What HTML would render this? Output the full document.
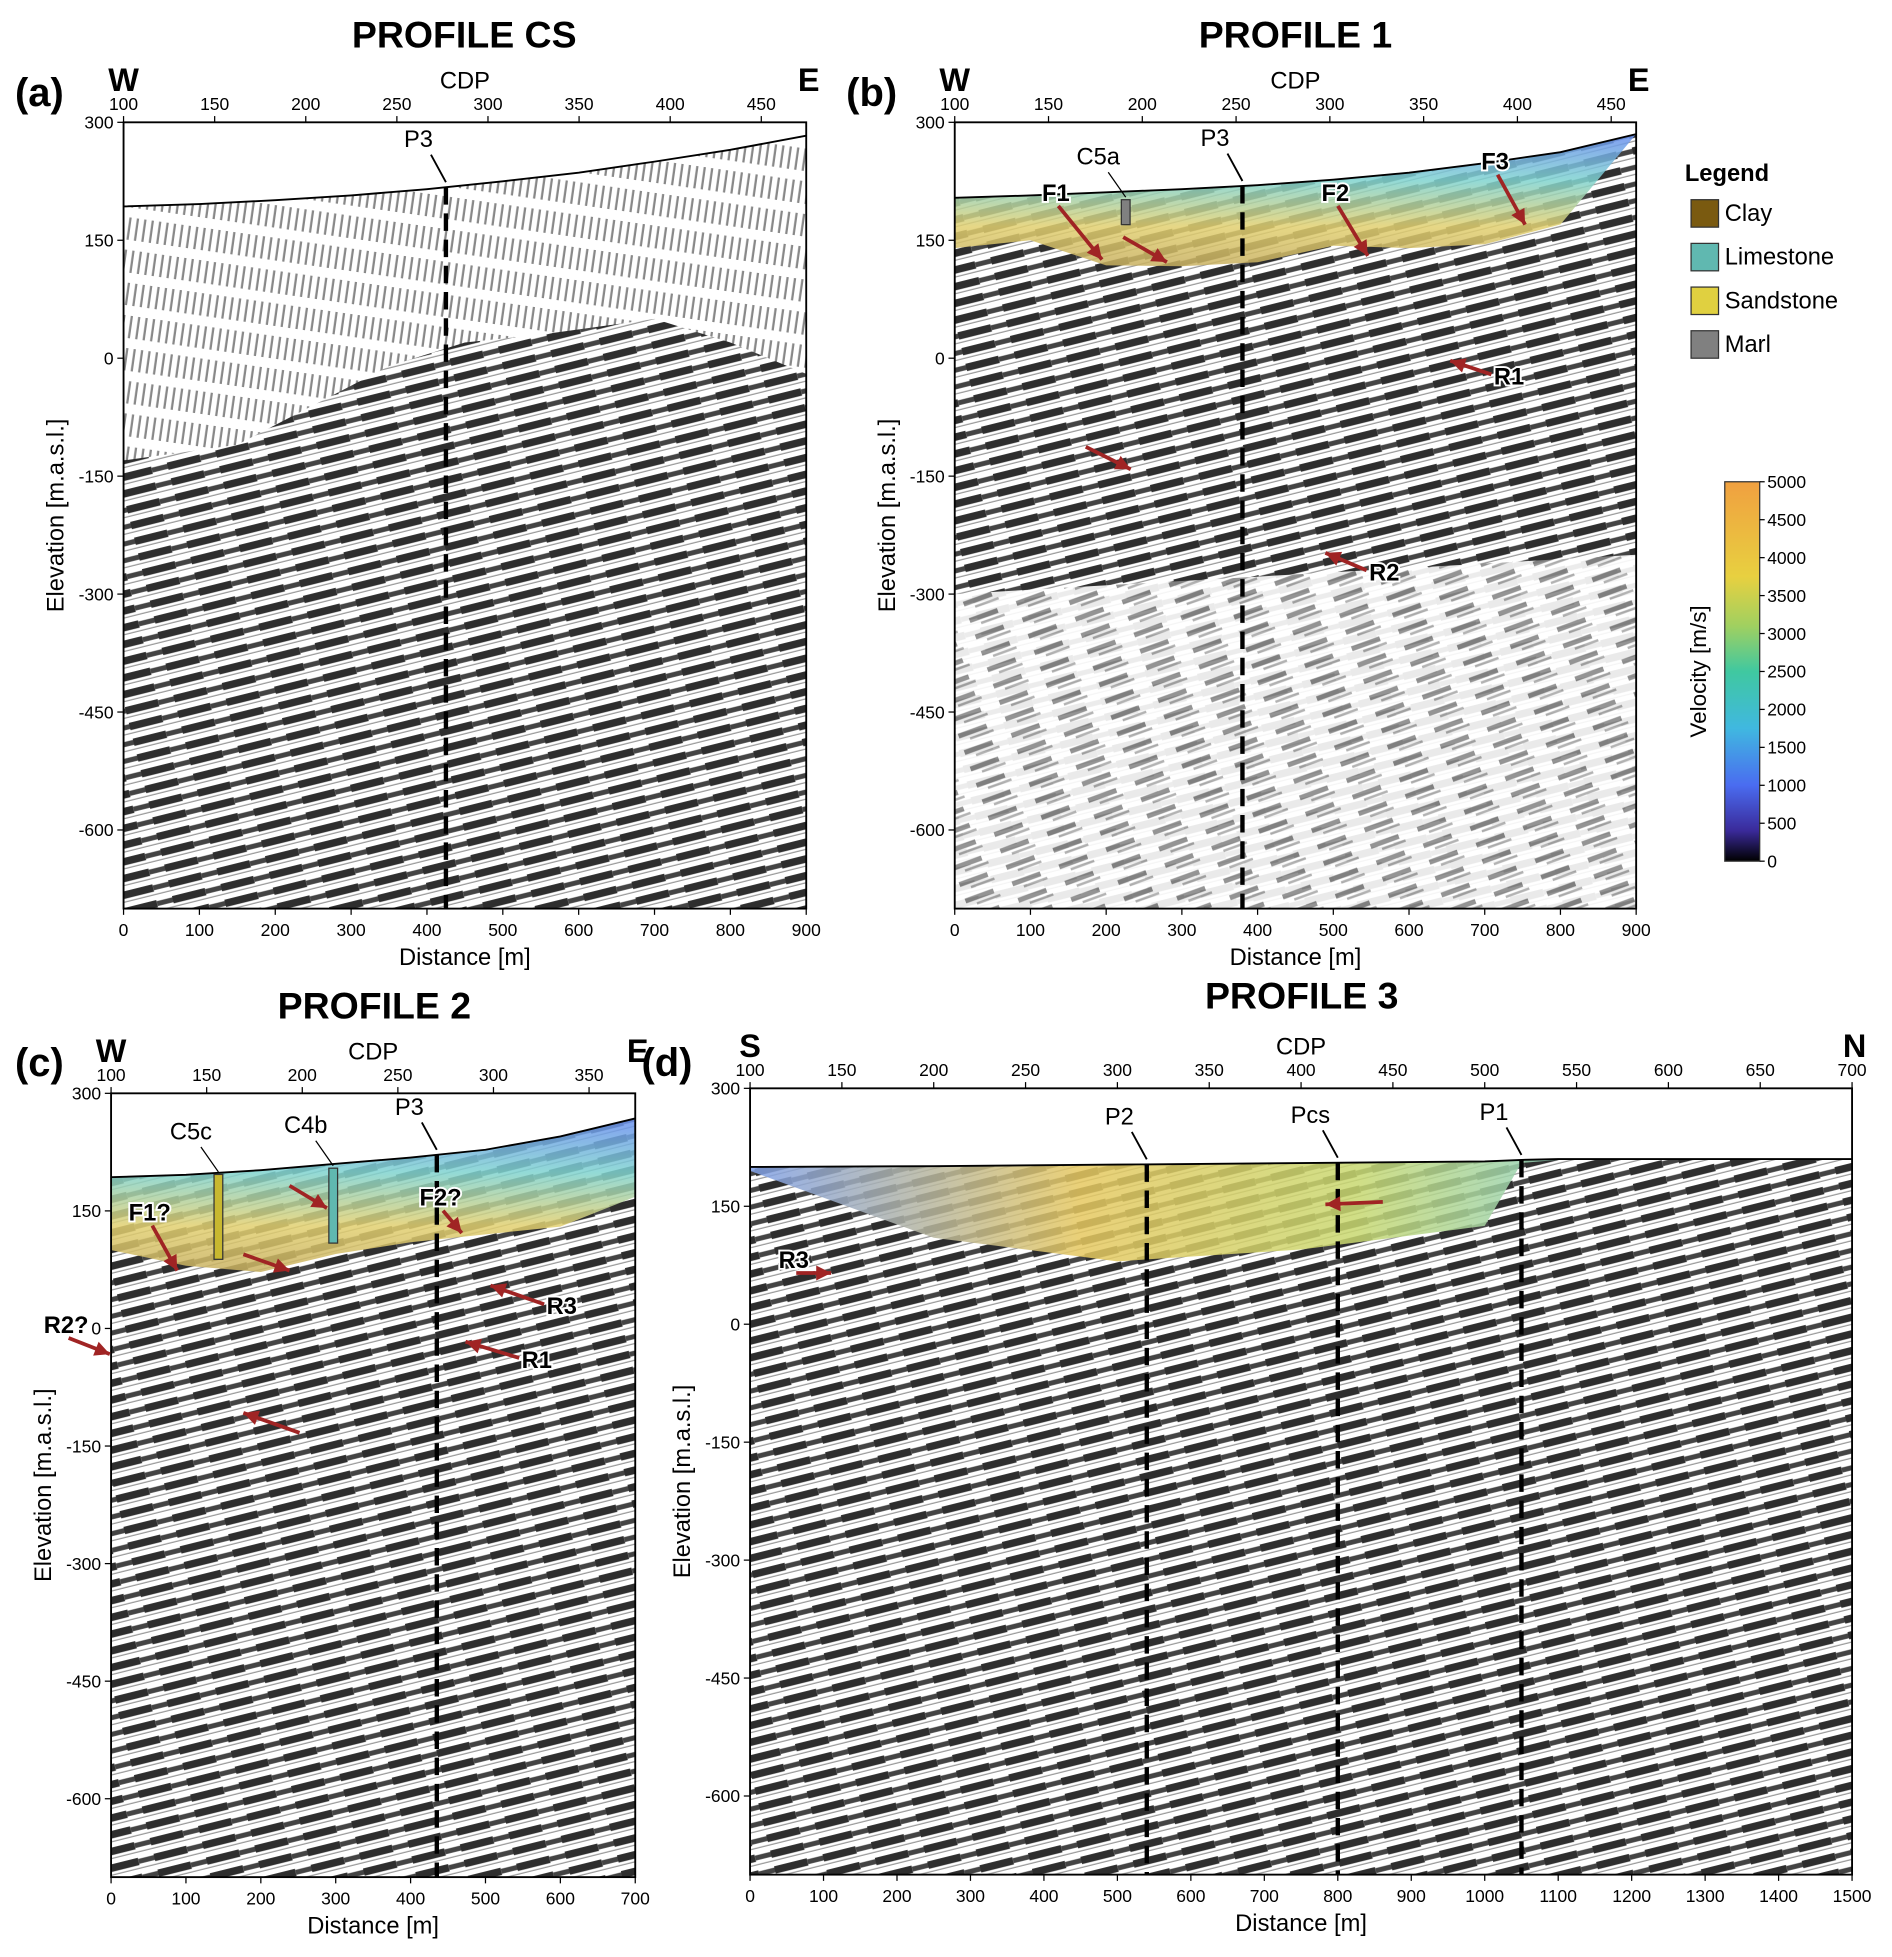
<!DOCTYPE html>
<html><head><meta charset="utf-8"><style>
html,body{margin:0;padding:0;background:#fff}
svg{display:block}
text{font-family:"Liberation Sans",sans-serif}
</style></head><body>
<svg id="fig" width="1892" height="1957" viewBox="0 0 1516 1568" preserveAspectRatio="none" xmlns="http://www.w3.org/2000/svg">
<defs>
<pattern id="seis" width="40" height="13" patternUnits="userSpaceOnUse" patternTransform="rotate(-14)">
<rect width="40" height="13" fill="#fff"/>
<rect y="2" width="27" height="6" fill="#2e2e2e"/>
<rect x="27" y="3" width="13" height="4" fill="#444"/>
<line x1="0" y1="10.5" x2="40" y2="10.5" stroke="#999" stroke-width="1"/>
</pattern>
<pattern id="seisLight" width="40" height="14" patternUnits="userSpaceOnUse" patternTransform="rotate(-20)">
<rect width="40" height="14" fill="#fff"/>
<rect y="3" width="24" height="4" fill="#888"/>
<rect x="8" y="9" width="20" height="2" fill="#aaa"/>
</pattern>
<pattern id="vert" width="6" height="26" patternUnits="userSpaceOnUse" patternTransform="rotate(8)">
<rect width="6" height="26" fill="#fff"/>
<rect x="1" y="2" width="1.8" height="18" fill="#888"/>
</pattern>
<linearGradient id="velH" x1="0" x2="1" y1="0" y2="0">
<stop offset="0" stop-color="#7fa0e8"/><stop offset="0.3" stop-color="#e6c860"/><stop offset="0.55" stop-color="#c8d870"/><stop offset="0.8" stop-color="#7fd0d8"/><stop offset="1" stop-color="#6e9ee8"/>
</linearGradient>
<linearGradient id="velV" x1="0" x2="0" y1="0" y2="1">
<stop offset="0" stop-color="#6a8ef0"/><stop offset="0.35" stop-color="#7fd3d0"/><stop offset="0.7" stop-color="#e2d070"/><stop offset="1" stop-color="#c8b060"/>
</linearGradient>
<linearGradient id="cbar" x1="0" x2="0" y1="1" y2="0">
<stop offset="0" stop-color="#000"/><stop offset="0.08" stop-color="#3a2a9a"/><stop offset="0.2" stop-color="#4a6cf0"/><stop offset="0.35" stop-color="#40b8e0"/><stop offset="0.5" stop-color="#40c8a0"/><stop offset="0.62" stop-color="#a0d060"/><stop offset="0.75" stop-color="#e8d040"/><stop offset="1" stop-color="#f0a040"/>
</linearGradient>
</defs>
<g id="root"></g>
</svg>
<script>
// ---- data ----
const elevTicks = [300,150,0,-150,-300,-450,-600];
const distTicksShort = [0,100,200,300,400,500,600,700,800,900];
const distTicksC = [0,100,200,300,400,500,600,700];
const distTicksD = [0,100,200,300,400,500,600,700,800,900,1000,1100,1200,1300,1400,1500];
const cdpTicksAB = [100,150,200,250,300,350,400,450];
const cdpTicksC = [100,150,200,250,300,350];
const cdpTicksD = [100,150,200,250,300,350,400,450,500,550,600,650,700];
// surfaces (distance m, elevation m)
const surfA_x = [0,100,200,300,400,500,600,700,800,900];
const surfA_y = [193,196,201,207,215,225,236,250,265,283];
const noiseA_x = [0,150,250,350,450,550,700,800,900];
const noiseA_y = [-130,-110,-60,-10,20,30,50,20,-20];
const surfB_x = [0,100,200,300,400,500,600,700,800,900];
const surfB_y = [204,207,211,215,220,227,236,248,262,285];
const baseB_y = [140,150,118,117,122,143,140,145,170,285];
const surfC_x = [0,100,200,300,400,500,600,700];
const surfC_y = [193,196,202,210,218,228,245,268];
const baseC_y = [100,80,72,95,110,120,130,168];
const surfD_x = [0,250,500,750,1000,1050,1100,1250,1500];
const surfD_y = [200,201,203,205,207,209,210,210,210];
const baseD_y = [195,110,80,95,125,205,209,209,209];
const velTicks = [0,500,1000,1500,2000,2500,3000,3500,4000,4500,5000];
const legendItems = ["Clay","Limestone","Sandstone","Marl"];
const legendColors = ["#7a5a10","#60b8b0","#e0d040","#808080"];

const NS="http://www.w3.org/2000/svg";
const root=document.getElementById('root');
function el(tag,attrs,parent,txt){const e=document.createElementNS(NS,tag);for(const k in attrs)e.setAttribute(k,attrs[k]);if(txt!==undefined)e.textContent=txt;(parent||root).appendChild(e);return e;}

const panels=[
 {id:'a',x0:99,x1:646,y0:98,y1:728,dmax:900,cdp0:100,cdp1:450,cdpx1:610,dt:distTicksShort,ct:cdpTicksAB,sx:surfA_x,sy:surfA_y,title:'PROFILE CS',tx:372,ty:38,lab:'(a)',lx:12,ly:85,L:'W',R:'E',lines:[[425,'P3']]},
 {id:'b',x0:765,x1:1311,y0:98,y1:728,dmax:900,cdp0:100,cdp1:450,cdpx1:1291,dt:distTicksShort,ct:cdpTicksAB,sx:surfB_x,sy:surfB_y,by:baseB_y,title:'PROFILE 1',tx:1038,ty:38,lab:'(b)',lx:678,ly:85,L:'W',R:'E',lines:[[380,'P3']]},
 {id:'c',x0:89,x1:509,y0:876,y1:1504,dmax:700,cdp0:100,cdp1:350,cdpx1:472,dt:distTicksC,ct:cdpTicksC,sx:surfC_x,sy:surfC_y,by:baseC_y,title:'PROFILE 2',tx:300,ty:816,lab:'(c)',lx:12,ly:862,L:'W',R:'E',lines:[[435,'P3']]},
 {id:'d',x0:601,x1:1484,y0:872,y1:1502,dmax:1500,cdp0:100,cdp1:700,cdpx1:1484,dt:distTicksD,ct:cdpTicksD,sx:surfD_x,sy:surfD_y,by:baseD_y,title:'PROFILE 3',tx:1043,ty:808,lab:'(d)',lx:514,ly:862,L:'S',R:'N',lines:[[540,'P2'],[800,'Pcs'],[1050,'P1']]}
];

panels.forEach(p=>{
 const g=el('g',{});
 
 
 const X=d=>p.x0+(p.x1-p.x0)*d/p.dmax;
 const ypx=(p.y1-p.y0)/1000;
 const Y=e=>p.y0+(300-e)*ypx;
 const C=c=>p.x0+(p.cdpx1-p.x0)*(c-p.cdp0)/(p.cdp1-p.cdp0);
 let pts=p.sx.map((d,i)=>X(d)+','+Y(p.sy[i])).join(' ');
 const poly=pts+' '+p.x1+','+p.y1+' '+p.x0+','+p.y1;
 const s=el('polygon',{points:poly,fill:'url(#seis)'},g);
 
 
 if(p.id==='a'){
  const npts=noiseA_x.map((d,i)=>X(d)+','+Y(noiseA_y[i])).reverse().join(' ');
  const vp=el('polygon',{points:pts+' '+npts,fill:'url(#vert)'},g);
  
  
 }
 if(p.id==='b'){
  const lp=el('polygon',{points:X(0)+','+Y(-300)+' '+X(900)+','+Y(-250)+' '+X(900)+','+Y(-700)+' '+X(0)+','+Y(-700),fill:'url(#seisLight)',opacity:0.9},g);
  
  
 }
 if(p.by){
  const bpts=p.sx.map((d,i)=>X(d)+','+Y(p.by[i])).reverse().join(' ');
  const v=el('polygon',{points:pts+' '+bpts,fill:p.id==='d'?'url(#velH)':'url(#velV)',opacity:0.85},g);
  
  
 }
 const sl=el('polyline',{points:pts,fill:'none',stroke:'#000','stroke-width':1.5},g);
 
 
 const fr=el('rect',{x:p.x0,y:p.y0,width:p.x1-p.x0,height:p.y1-p.y0,fill:'none',stroke:'#000','stroke-width':1.5},g);
 
 
 p.lines.forEach(([d,n])=>{
  const x=X(d);
  let e=p.sy[0];for(let i=1;i<p.sx.length;i++){if(d<=p.sx[i]){const t=(d-p.sx[i-1])/(p.sx[i]-p.sx[i-1]);e=p.sy[i-1]+t*(p.sy[i]-p.sy[i-1]);break;}}
  const ln=el('line',{x1:x,y1:Y(e),x2:x,y2:p.y1,stroke:'#000','stroke-width':3.5,'stroke-dasharray':'14,7'},g);
  
  
  el('line',{x1:x-12,y1:Y(e)-26,x2:x,y2:Y(e)-4,stroke:'#000','stroke-width':1.5},g);
  const t=el('text',{x:x-22,y:Y(e)-32,'font-size':19,'text-anchor':'middle'},g,n);
  
  
 });
 elevTicks.forEach(v=>{
  el('line',{x1:p.x0-5,x2:p.x0,y1:Y(v),y2:Y(v),stroke:'#000'},g);
  const t=el('text',{x:p.x0-8,y:Y(v)+5,'font-size':14,'text-anchor':'end'},g,v);
  
  
 });
 p.dt.forEach(v=>{
  el('line',{x1:X(v),x2:X(v),y1:p.y1,y2:p.y1+5,stroke:'#000'},g);
  const t=el('text',{x:X(v),y:p.y1+22,'font-size':14,'text-anchor':'middle'},g,v);
  
  
 });
 p.ct.forEach(v=>{
  el('line',{x1:C(v),x2:C(v),y1:p.y0-5,y2:p.y0,stroke:'#000'},g);
  const t=el('text',{x:C(v),y:p.y0-10,'font-size':14,'text-anchor':'middle'},g,v);
  
  
 });
 const cx=(p.x0+p.x1)/2;
 let t=el('text',{x:cx,y:p.y0-27,'font-size':19,'text-anchor':'middle'},g,'CDP');
 
 t=el('text',{x:cx,y:p.y1+45,'font-size':19,'text-anchor':'middle'},g,'Distance [m]');
 
 const my=(p.y0+p.y1)/2;
 t=el('text',{x:p.x0-48,y:my,'font-size':19,'text-anchor':'middle',transform:'rotate(-90 '+(p.x0-48)+' '+my+')'},g,'Elevation [m.a.s.l.]');
 
 t=el('text',{x:p.tx,y:p.ty,'font-size':30,'font-weight':'bold','text-anchor':'middle'},g,p.title);
 
 t=el('text',{x:p.lx,y:p.ly,'font-size':32,'font-weight':'bold'},g,p.lab);
 
 t=el('text',{x:p.x0,y:p.y0-25,'font-size':26,'font-weight':'bold','text-anchor':'middle'},g,p.L);
 
 t=el('text',{x:p.x1+2,y:p.y0-25,'font-size':26,'font-weight':'bold','text-anchor':'middle'},g,p.R);
 
});

const arrows=[[848,165,883,208,'F1'],[900,190,935,210,''],[1072,165,1096,205,'F2'],[1200,140,1222,180,'F3'],[1195,300,1162,289,'R1'],[870,358,906,376,''],[1095,457,1062,443,'R2'],
[122,982,142,1018,'F1?'],[195,1005,232,1018,''],[232,950,262,968,''],[355,970,370,988,'F2?'],[436,1045,393,1030,'R3'],[416,1088,373,1075,'R1'],[55,1072,88,1085,'R2?'],[240,1148,195,1132,''],[1108,963,1062,965,''],[638,1020,666,1020,'R3']];
arrows.forEach(a=>{
 const g=el('g',{});
 
 
 el('line',{x1:a[0],y1:a[1],x2:a[2],y2:a[3],stroke:'#a02424','stroke-width':3},g);
 const ang=Math.atan2(a[3]-a[1],a[2]-a[0]);
 const h=12,w=6;
 const bx=a[2]-h*Math.cos(ang),by=a[3]-h*Math.sin(ang);
 el('polygon',{points:a[2]+','+a[3]+' '+(bx-w*Math.sin(ang))+','+(by+w*Math.cos(ang))+' '+(bx+w*Math.sin(ang))+','+(by-w*Math.cos(ang)),fill:'#a02424'},g);
 if(a[4]){
  const left=a[2]<a[0];
  const t=el('text',{x:left?a[0]+2:a[0]-2,y:left?a[1]+8:a[1]-4,'font-size':19,'font-weight':'bold','text-anchor':left?'start':'middle',stroke:'#fff','stroke-width':3,'paint-order':'stroke'},g,a[4]);
  
  
 }
});
const bores=[[902,160,20,'C5a','#808080'],[175,941,68,'C5c','#c8b830'],[267,936,60,'C4b','#60b8b0']];
bores.forEach(b=>{
 const g=el('g',{});
 
 
 el('rect',{x:b[0]-3.5,y:b[1],width:7,height:b[2],fill:b[4],stroke:'#333'},g);
 el('line',{x1:b[0]-14,y1:b[1]-22,x2:b[0],y2:b[1]-2,stroke:'#000'},g);
 el('text',{x:b[0]-22,y:b[1]-28,'font-size':19,'text-anchor':'middle'},g,b[3]);
});

const lg=el('g',{});


el('text',{x:1350,y:145,'font-size':19,'font-weight':'bold'},lg,'Legend');
legendItems.forEach((n,i)=>{
 const y=160+i*35;
 const r=el('rect',{x:1355,y:y,width:22,height:22,fill:legendColors[i],stroke:'#333'},lg);
 
 
 const t=el('text',{x:1382,y:y+17,'font-size':19},lg,n);
 
 
});
const cb=el('g',{});


const cy0=386,cy1=690;
el('rect',{x:1382,y:cy0,width:28,height:cy1-cy0,fill:'url(#cbar)',stroke:'#333'},cb);
velTicks.forEach(v=>{
 const y=cy1-(cy1-cy0)*v/5000;
 el('line',{x1:1410,x2:1414,y1:y,y2:y,stroke:'#000'},cb);
 const t=el('text',{x:1416,y:y+5,'font-size':14},cb,v);
 
 
});
const ct=el('text',{x:1367,y:538,'font-size':18,'text-anchor':'middle',transform:'rotate(-90 1367 538)'},cb,'Velocity [m/s]');


</script>
</body></html>
